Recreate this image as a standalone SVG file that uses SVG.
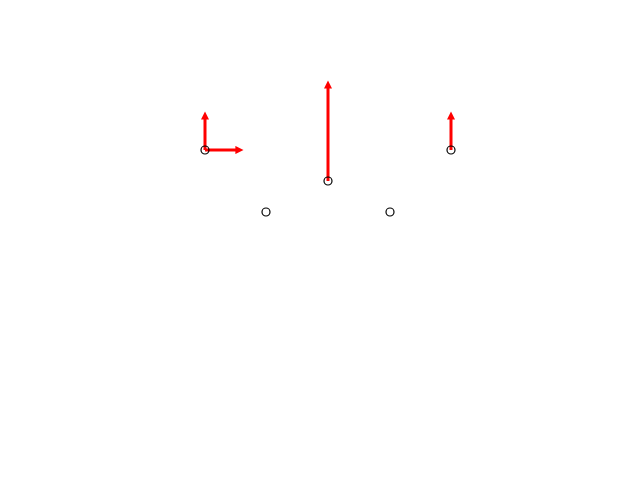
<svg xmlns="http://www.w3.org/2000/svg" width="640" height="480" viewBox="0 0 640 480">
<style>
.arr{stroke:#ff0000;stroke-width:3;fill:none}
.pt{fill:none;stroke:#000;stroke-width:1.2}
</style>
<defs>
<marker id="ah" viewBox="0 0 10 10" refX="2" refY="5" markerWidth="3" markerHeight="2.7" orient="auto" markerUnits="strokeWidth">
<path d="M0,0 L10,5 L0,10 z" fill="#ff0000"/>
</marker>
</defs>
<rect width="640" height="480" fill="#fff"/>
<g id="connectors">
<line class="arr" x1="205" y1="150" x2="205" y2="118" marker-end="url(#ah)"/>
<line class="arr" x1="205" y1="150" x2="237" y2="150" marker-end="url(#ah)"/>
<line class="arr" x1="328" y1="181" x2="328" y2="87" marker-end="url(#ah)"/>
<line class="arr" x1="451" y1="150" x2="451" y2="118" marker-end="url(#ah)"/>
</g>
<g id="p1"><circle class="pt" cx="205" cy="150" r="4"/></g>
<g id="p2"><circle class="pt" cx="328" cy="181" r="4"/></g>
<g id="p3"><circle class="pt" cx="451" cy="150" r="4"/></g>
<g id="p4"><circle class="pt" cx="266" cy="212" r="4"/></g>
<g id="p5"><circle class="pt" cx="390" cy="212" r="4"/></g>
</svg>
